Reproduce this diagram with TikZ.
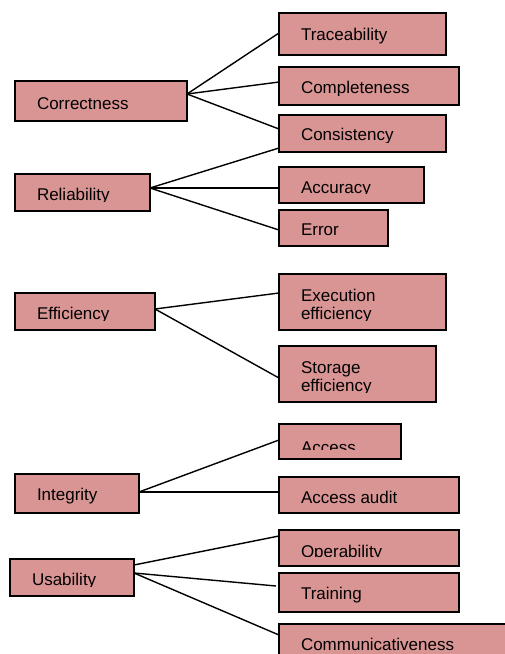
\documentclass[tikz,border=0pt]{standalone}
\usepackage{fontspec}
\setmainfont{Liberation Sans}
\usetikzlibrary{calc}
\definecolor{boxfill}{HTML}{D99594}
\tikzset{
  qbox/.style={draw=black, line width=1.3pt, fill=boxfill, inner sep=0pt, outer sep=0pt, anchor=north west},
  qtxt/.style={anchor=base west, inner sep=0pt, outer sep=0pt, font=\fontsize{17}{18}\selectfont},
  qline/.style={draw=black, line width=1.4pt}
}
% #1 name, #2 left, #3 top, #4 right, #5 bottom, #6 baseline offset, #7 text
\newcommand{\qbox}[7]{%
  \node[qbox, minimum width={(#4-#2)*1pt}, minimum height={(#5-#3)*1pt}] (#1) at (#2,#3) {};
  \begin{scope}
    \clip (#1.north west) rectangle ([yshift=10pt]#1.south east);
    \node[qtxt] (#1-t) at ([xshift=22pt,yshift=-#6pt]#1.north west) {#7};
  \end{scope}
}
\begin{document}
\begin{tikzpicture}[x=1pt,y=-1pt]
\useasboundingbox (0,0) rectangle (505,654);
% parents
\qbox{corr}{15}{81}{187}{121}{28}{Correctness}
\qbox{rel}{15}{174}{150}{211}{26.6}{Reliability}
\qbox{eff}{15}{293}{155}{330}{26}{Efficiency}
\qbox{integ}{15}{474}{139}{513}{26.7}{Integrity}
\qbox{usab}{10}{559}{134}{596}{26}{Usability}
% children
\qbox{trace}{279}{13}{446}{55}{27.4}{Traceability}
\qbox{compl}{279}{67}{459}{105}{26.4}{Completeness}
\qbox{consis}{279}{115}{446}{152}{25}{Consistency}
\qbox{accur}{279}{167}{424}{203}{26}{Accuracy}
\qbox{error}{279}{210}{388}{246}{25.5}{Error}
\qbox{exec}{279}{274}{446}{330}{27.7}{\begin{tabular}[t]{@{}l@{}}Execution\\efficiency\end{tabular}}
\qbox{stor}{279}{346}{436}{402}{27}{\begin{tabular}[t]{@{}l@{}}Storage\\efficiency\end{tabular}}
\qbox{access}{279}{424}{401}{459}{29.5}{Access}
\qbox{audit}{279}{477}{459}{513}{26.7}{Access audit}
\qbox{oper}{279}{530}{459}{566}{27}{Operability}
\qbox{train}{279}{573}{459}{612}{26}{Training}
\qbox{comm}{279}{624}{530}{690}{26}{Communicativeness}
% connectors
\draw[qline] ([yshift=-13pt]corr.north east) -- ([yshift=-20pt]trace.north west);
\draw[qline] ([yshift=-13pt]corr.north east) -- ([yshift=-15pt]compl.north west);
\draw[qline] ([yshift=-13pt]corr.north east) -- ([yshift=-14pt]consis.north west);
\draw[qline] ([yshift=-14pt]rel.north east) -- ([yshift=4pt]consis.south west);
\draw[qline] ([yshift=-14pt]rel.north east) -- ([yshift=-21pt]accur.north west);
\draw[qline] ([yshift=-14pt]rel.north east) -- ([yshift=-20pt]error.north west);
\draw[qline] ([yshift=-16pt]eff.north east) -- ([yshift=-19pt]exec.north west);
\draw[qline] ([yshift=-16pt]eff.north east) -- ([yshift=-32pt]stor.north west);
\draw[qline] ([yshift=-18pt]integ.north east) -- ([yshift=-16pt]access.north west);
\draw[qline] ([yshift=-18pt]integ.north east) -- ([yshift=-15pt]audit.north west);
\draw[qline] ([yshift=-6pt]usab.north east) -- ([yshift=-6pt]oper.north west);
\draw[qline] ([yshift=-14pt]usab.north east) -- ([xshift=-3pt,yshift=-13pt]train.north west);
\draw[qline] ([yshift=-14pt]usab.north east) -- ([yshift=-11pt]comm.north west);
\end{tikzpicture}
\end{document}
